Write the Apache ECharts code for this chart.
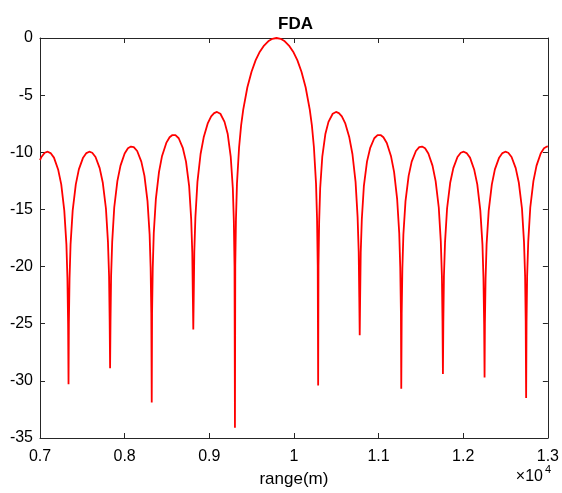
<!DOCTYPE html>
<html><head><meta charset="utf-8">
<script src="https://cdn.jsdelivr.net/npm/echarts/dist/echarts.min.js"></script>
<style>html,body{margin:0;padding:0;background:#fff}#c{width:562px;height:493px}</style>
</head><body><div id="c"></div>
<script>
// ---- values: [range (m), level (dB)] ----
const titleText = 'FDA';
const xAxisName = 'range(m)';
const xScaleBase = '\u00d710';
const xScaleExp = '4';
const xRange = [7000, 13000, 1000];   // min, max, step (m) -> labels 0.7 ... 1.3 (x10^4)
const yRange = [-35, 0, 5];           // min, max, step (dB)

const lobeL5 = [[7000,-10.68],[7017,-10.41],[7056,-10.04],[7091,-9.95],[7125,-10.07],[7165,-10.47],[7214,-11.50],[7251,-12.81],[7287,-15.10],[7312,-18.06],[7324,-21.05],[7332,-25.03],[7337,-30.3]];
const lobeL4 = [[7341,-25.03],[7349,-21.05],[7361,-18.06],[7386,-15.10],[7423,-12.81],[7459,-11.50],[7509,-10.47],[7548,-10.07],[7582,-9.95],[7617,-10.04],[7656,-10.41],[7705,-11.39],[7742,-12.67],[7779,-14.92],[7803,-17.86],[7816,-20.84],[7823,-24.81],[7828,-28.9]];
const lobeL3 = [[7833,-24.81],[7840,-20.82],[7853,-17.82],[7877,-14.83],[7914,-12.52],[7951,-11.17],[8000,-10.10],[8039,-9.65],[8074,-9.50],[8108,-9.55],[8148,-9.89],[8197,-10.82],[8234,-12.06],[8270,-14.27],[8295,-17.19],[8307,-20.15],[8315,-24.12],[8320,-31.9]];
const lobeL2 = [[8324,-24.10],[8332,-20.10],[8344,-17.09],[8369,-14.07],[8406,-11.71],[8442,-10.32],[8492,-9.18],[8531,-8.69],[8565,-8.49],[8600,-8.50],[8639,-8.77],[8688,-9.64],[8725,-10.82],[8762,-12.97],[8786,-15.84],[8799,-18.78],[8806,-22.74],[8811,-25.5]];
const lobeL1 = [[8816,-22.70],[8823,-18.69],[8836,-15.65],[8860,-12.59],[8897,-10.15],[8934,-8.69],[8983,-7.44],[9022,-6.85],[9057,-6.57],[9091,-6.47],[9131,-6.63],[9180,-7.34],[9217,-8.37],[9253,-10.37],[9278,-13.15],[9290,-16.04],[9298,-19.97],[9303,-34.1]];
const mainLobe = [[9307,-19.89],[9315,-15.85],[9327,-12.74],[9352,-9.56],[9376,-7.64],[9401,-6.26],[9450,-4.31],[9499,-2.95],[9548,-1.94],[9597,-1.20],[9647,-0.66],[9696,-0.29],[9745,-0.07],[9794,0],[9843,-0.07],[9892,-0.29],[9941,-0.66],[9991,-1.20],[10040,-1.94],[10089,-2.95],[10138,-4.31],[10187,-6.26],[10212,-7.64],[10236,-9.56],[10261,-12.74],[10273,-15.85],[10281,-19.89],[10286,-30.4]];
const lobeR1 = [[10290,-19.97],[10298,-16.04],[10310,-13.15],[10335,-10.37],[10372,-8.37],[10408,-7.34],[10458,-6.63],[10497,-6.47],[10531,-6.57],[10566,-6.85],[10605,-7.44],[10654,-8.69],[10691,-10.15],[10728,-12.59],[10752,-15.65],[10765,-18.69],[10772,-22.70],[10777,-26.0]];
const lobeR2 = [[10782,-22.74],[10789,-18.78],[10802,-15.84],[10826,-12.97],[10863,-10.82],[10900,-9.64],[10949,-8.77],[10988,-8.50],[11023,-8.49],[11057,-8.69],[11097,-9.18],[11146,-10.32],[11183,-11.71],[11219,-14.07],[11244,-17.09],[11256,-20.10],[11264,-24.10],[11268,-30.7]];
const lobeR3 = [[11273,-24.12],[11281,-20.15],[11293,-17.19],[11318,-14.27],[11355,-12.06],[11391,-10.82],[11441,-9.89],[11480,-9.55],[11514,-9.50],[11549,-9.65],[11588,-10.10],[11637,-11.17],[11674,-12.52],[11711,-14.83],[11735,-17.82],[11748,-20.82],[11755,-24.81],[11760,-29.4]];
const lobeR4 = [[11765,-24.81],[11772,-20.84],[11785,-17.86],[11809,-14.92],[11846,-12.67],[11883,-11.39],[11932,-10.41],[11971,-10.04],[12006,-9.95],[12040,-10.07],[12080,-10.47],[12129,-11.50],[12166,-12.81],[12202,-15.10],[12227,-18.06],[12239,-21.05],[12247,-25.03],[12252,-29.7]];
const lobeR5 = [[12256,-25.03],[12264,-21.05],[12276,-18.06],[12301,-15.10],[12338,-12.81],[12374,-11.50],[12424,-10.47],[12463,-10.07],[12497,-9.95],[12532,-10.04],[12571,-10.41],[12620,-11.39],[12657,-12.67],[12694,-14.92],[12718,-17.86],[12731,-20.84],[12738,-24.81],[12743,-31.5]];
const lobeR6 = [[12748,-24.81],[12755,-20.82],[12768,-17.82],[12792,-14.83],[12829,-12.52],[12866,-11.17],[12915,-10.10],[12954,-9.65],[12989,-9.50],[13000,-9.49]];

const curve = [].concat(lobeL5, lobeL4, lobeL3, lobeL2, lobeL1, mainLobe, lobeR1, lobeR2, lobeR3, lobeR4, lobeR5, lobeR6);

const FONT = "'Liberation Sans', Arial, Helvetica, sans-serif";
const INK = '#262626';
const chart = echarts.init(document.getElementById('c'), null, {renderer: 'canvas'});

const baseX = {
  type: 'value', min: xRange[0], max: xRange[1], interval: xRange[2],
  axisLine: {show: true, onZero: false, lineStyle: {color: INK, width: 1}},
  axisTick: {show: true, inside: true, length: 5, lineStyle: {color: INK}},
  splitLine: {show: false}
};
const baseY = {
  type: 'value', min: yRange[0], max: yRange[1], interval: yRange[2],
  axisLine: {show: true, onZero: false, lineStyle: {color: INK, width: 1}},
  axisTick: {show: true, inside: true, length: 5, lineStyle: {color: INK}},
  splitLine: {show: false}
};

chart.setOption({
  animation: false,
  backgroundColor: '#fff',
  title: {
    text: titleText, left: 273, top: 11,
    textStyle: {fontFamily: FONT, fontSize: 17, fontWeight: 'bold', color: '#000'}
  },
  grid: {left: 40, right: 11, top: 38, bottom: 51, containLabel: false},
  xAxis: [
    Object.assign({}, baseX, {
      position: 'bottom',
      name: xAxisName, nameLocation: 'middle', nameGap: 33,
      nameTextStyle: {fontFamily: FONT, fontSize: 17, color: '#000'},
      axisLabel: {margin: 11, fontFamily: FONT, fontSize: 16, color: '#000',
        formatter: v => String(Math.round(v / 100) / 100)}
    }),
    Object.assign({}, baseX, {position: 'top', axisLabel: {show: false}})
  ],
  yAxis: [
    Object.assign({}, baseY, {
      position: 'left',
      axisLabel: {margin: 7, padding: [3, 0, 0, 0], fontFamily: FONT, fontSize: 16, color: '#000'}
    }),
    Object.assign({}, baseY, {position: 'right', axisLabel: {show: false}})
  ],
  graphic: [
    {type: 'text', x: 543, y: 477,
     style: {text: xScaleBase, font: '16px ' + FONT, fill: '#000', textAlign: 'right', textVerticalAlign: 'middle', align: 'right', verticalAlign: 'middle'}},
    {type: 'text', x: 545, y: 470,
     style: {text: xScaleExp, font: '11px ' + FONT, fill: '#000', textAlign: 'left', textVerticalAlign: 'middle', align: 'left', verticalAlign: 'middle'}}
  ],
  series: [{
    type: 'line', data: curve, showSymbol: false, symbol: 'none',
    sampling: null, clip: true,
    lineStyle: {color: '#ff0000', width: 1.8},
    itemStyle: {color: '#ff0000'}
  }]
});
</script></body></html>
